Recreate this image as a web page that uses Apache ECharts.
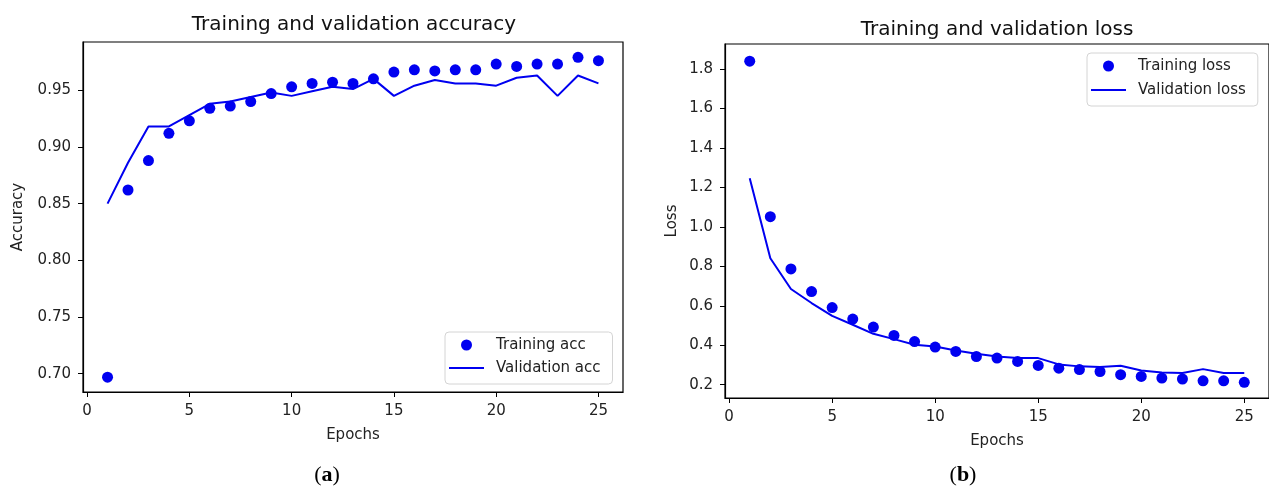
<!DOCTYPE html>
<html>
<head>
<meta charset="utf-8">
<script src="https://cdn.jsdelivr.net/npm/echarts@6/dist/echarts.min.js"></script>
<style>
  html, body { margin: 0; padding: 0; background: #fff; }
  #chart { width: 1269px; height: 490px; }
</style>
</head>
<body>
<div id="chart"></div>
<script>
// epochs and the four curves
const epochs = [1, 2, 3, 4, 5, 6, 7, 8, 9, 10, 11, 12, 13, 14, 15, 16, 17, 18, 19, 20, 21, 22, 23, 24, 25];
const trainAcc = [0.697, 0.862, 0.888, 0.912, 0.923, 0.934, 0.936, 0.940, 0.947, 0.953, 0.956, 0.957, 0.956,
  0.960, 0.966, 0.968, 0.967, 0.968, 0.968, 0.973, 0.971, 0.973, 0.973, 0.979, 0.976];
const valAcc = [0.850, 0.886, 0.918, 0.918, 0.928, 0.938, 0.940, 0.944, 0.948, 0.945, 0.949, 0.953, 0.951,
  0.960, 0.945, 0.954, 0.959, 0.956, 0.956, 0.954, 0.961, 0.963, 0.945, 0.963, 0.956];
const trainLoss = [1.840, 1.052, 0.787, 0.672, 0.591, 0.533, 0.492, 0.450, 0.419, 0.391, 0.369, 0.343, 0.335,
  0.318, 0.298, 0.284, 0.277, 0.267, 0.251, 0.242, 0.234, 0.229, 0.220, 0.220, 0.212];
const valLoss = [1.247, 0.841, 0.685, 0.614, 0.549, 0.504, 0.458, 0.431, 0.403, 0.394, 0.374, 0.357, 0.343,
  0.335, 0.335, 0.303, 0.293, 0.290, 0.296, 0.272, 0.262, 0.259, 0.279, 0.259, 0.259];

// tick labels
const xTicks = [0, 5, 10, 15, 20, 25];
const accTicks = [0.70, 0.75, 0.80, 0.85, 0.90, 0.95];
const lossTicks = [0.2, 0.4, 0.6, 0.8, 1.0, 1.2, 1.4, 1.6, 1.8];

const font = 'DejaVu Sans';
const blue = '#0000f0';
const pairs = (ys) => epochs.map((e, i) => [e, ys[i]]);

const chart = echarts.init(document.getElementById('chart'));

function xAxisOf(gridIndex) {
  return {
    type: 'value', gridIndex: gridIndex, min: -0.2, max: 26.2,
    name: 'Epochs', nameLocation: 'middle', nameGap: 36,
    nameTextStyle: { fontFamily: font, fontSize: 15, color: '#222' },
    axisLine: { show: true, onZero: false, lineStyle: { color: '#000', width: 1.2 } },
    axisTick: { show: true, length: 5, customValues: xTicks, lineStyle: { color: '#000' } },
    axisLabel: { customValues: xTicks, margin: 12, fontFamily: font, fontSize: 15, color: '#222' },
    splitLine: { show: false }
  };
}

function yAxisOf(gridIndex, name, min, max, ticks, digits, gap) {
  return {
    type: 'value', gridIndex: gridIndex, min: min, max: max,
    name: name, nameLocation: 'middle', nameRotate: 90, nameGap: gap,
    nameTextStyle: { fontFamily: font, fontSize: 15, color: '#222' },
    axisLine: { show: true, onZero: false, lineStyle: { color: '#000', width: 1.2 } },
    axisTick: { show: true, length: 5, customValues: ticks, lineStyle: { color: '#000' } },
    axisLabel: {
      customValues: ticks, margin: 12, fontFamily: font, fontSize: 15, color: '#222',
      formatter: v => v.toFixed(digits)
    },
    splitLine: { show: false }
  };
}

// plain line icon for the validation entries
const lineIcon = 'path://M0,0 H35 V2 H0 Z';

function legendOf(names, left, top, gap) {
  return {
    orient: 'vertical', left: left, top: top,
    padding: [4, 12, 7, 4], itemGap: gap,
    itemWidth: 35, itemHeight: 11,
    borderColor: '#d4d4d4', borderWidth: 1, borderRadius: 4, backgroundColor: '#fff',
    textStyle: { fontFamily: font, fontSize: 15, color: '#222', lineHeight: 18, padding: [0, 0, 0, 7] },
    data: [{ name: names[0], icon: 'circle' }, { name: names[1], icon: lineIcon }]
  };
}

const dotStyle = { color: blue, opacity: 1 };

const option = {
  animation: false,
  grid: [
    { left: 83, top: 42, width: 540, height: 350, show: true, borderColor: '#000', borderWidth: 1.2 },
    { left: 725, top: 44, width: 547, height: 354, show: true, borderColor: '#000', borderWidth: 1.2 }
  ],
  xAxis: [xAxisOf(0), xAxisOf(1)],
  yAxis: [
    yAxisOf(0, 'Accuracy', 0.6839, 0.9925, accTicks, 2, 57),
    yAxisOf(1, 'Loss', 0.1327, 1.927, lossTicks, 1, 45)
  ],
  legend: [
    legendOf(['Training acc', 'Validation acc'], 445, 332, 5),
    legendOf(['Training loss', 'Validation loss'], 1087, 53, 6)
  ],
  series: [
    { name: 'Training acc', type: 'scatter', xAxisIndex: 0, yAxisIndex: 0, symbolSize: 11,
      itemStyle: dotStyle, data: pairs(trainAcc) },
    { name: 'Validation acc', type: 'line', xAxisIndex: 0, yAxisIndex: 0, symbol: 'none',
      lineStyle: { color: blue, width: 2 }, itemStyle: { color: blue }, data: pairs(valAcc) },
    { name: 'Training loss', type: 'scatter', xAxisIndex: 1, yAxisIndex: 1, symbolSize: 11,
      itemStyle: dotStyle, data: pairs(trainLoss) },
    { name: 'Validation loss', type: 'line', xAxisIndex: 1, yAxisIndex: 1, symbol: 'none',
      lineStyle: { color: blue, width: 2 }, itemStyle: { color: blue }, data: pairs(valLoss) }
  ],
  graphic: [
    { type: 'text', x: 354, y: 25, style: { text: 'Training and validation accuracy', font: '20px "DejaVu Sans"',
      fill: '#111', textAlign: 'center', textVerticalAlign: 'middle' } },
    { type: 'text', x: 997, y: 30, style: { text: 'Training and validation loss', font: '20px "DejaVu Sans"',
      fill: '#111', textAlign: 'center', textVerticalAlign: 'middle' } },
    { type: 'text', x: 327, y: 475, style: { text: '{p|(}{b|a}{p|)}', textAlign: 'center', textVerticalAlign: 'middle',
      rich: {
        p: { fontFamily: 'Liberation Serif', fontSize: 22, fill: '#000' },
        b: { fontFamily: 'Liberation Serif', fontSize: 22, fontWeight: 'bold', fill: '#000' }
      } } },
    { type: 'text', x: 963, y: 475, style: { text: '{p|(}{b|b}{p|)}', textAlign: 'center', textVerticalAlign: 'middle',
      rich: {
        p: { fontFamily: 'Liberation Serif', fontSize: 22, fill: '#000' },
        b: { fontFamily: 'Liberation Serif', fontSize: 22, fontWeight: 'bold', fill: '#000' }
      } } }
  ]
};

chart.setOption(option);
window.onresize = function () {
  chart.resize();
};
</script>
</body>
</html>
